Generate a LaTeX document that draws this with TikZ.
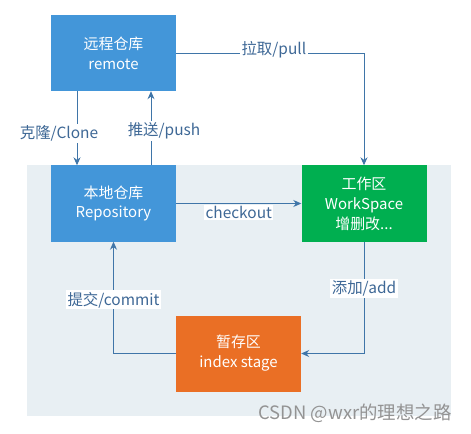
\documentclass[tikz,border=0pt]{standalone}
\usepackage{fontspec}
\setmainfont{Noto Sans CJK SC}
\usetikzlibrary{arrows.meta}
\definecolor{boxblue}{HTML}{4396D9}
\definecolor{boxgreen}{HTML}{00AF50}
\definecolor{boxorange}{HTML}{EA6F25}
\definecolor{bggray}{HTML}{E8EFF3}
\definecolor{linecol}{HTML}{3F75A8}
\definecolor{lblcol}{HTML}{3E6896}
\tikzstyle{box} = [minimum width=125bp, minimum height=76bp, inner sep=0pt, text=white, align=center, font=\fontsize{15}{20}\selectfont]
\tikzstyle{lbl} = [fill=white, text=lblcol, inner sep=1.5bp, font=\fontsize{15.5}{18}\selectfont]
\tikzstyle{flow} = [draw=linecol, line width=0.9bp, -{Stealth[length=8bp,width=7bp]}]

\begin{document}
\begin{tikzpicture}[x=1bp,y=-1bp]
  \useasboundingbox (0,0) rectangle (471,434);
  \fill [bggray] (27,165) rectangle (451,416);
  \node (remote) at (113.5,53) [box, fill=boxblue] {远程仓库\\remote};
  \node (repo) at (113.5,203.5) [box, fill=boxblue] {本地仓库\\Repository};
  \node (work) at (364,203.5) [box, fill=boxgreen] {工作区\\WorkSpace\\增删改...};
  \node (stage) at (238.5,353.5) [box, fill=boxorange] {暂存区\\index stage};
  \node (mark) at (355,413) [text=gray!85, font=\fontsize{18.5}{20}\selectfont] {CSDN @wxr的理想之路};
  \draw [flow] ([xshift=-36.5bp]remote.south) to node [lbl, xshift=-18bp, yshift=-5bp] {克隆/Clone} ([xshift=-36.5bp]repo.north);
  \draw [flow] ([xshift=37.5bp]repo.north) to node [lbl, xshift=13bp, yshift=-3bp] {推送/push} ([xshift=37.5bp]remote.south);
  \draw [flow] (remote.east) -| node [lbl, pos=0.26, yshift=3bp] {拉取/pull} (work.north);
  \draw [flow] (repo.east) to node [lbl, yshift=-9bp] {checkout} (work.west);
  \draw [flow] (work.south) |- node [lbl, pos=0.21] {添加/add} (stage.east);
  \draw [flow] (stage.west) -| node [lbl, pos=0.74] {提交/commit} (repo.south);
\end{tikzpicture}
\end{document}
